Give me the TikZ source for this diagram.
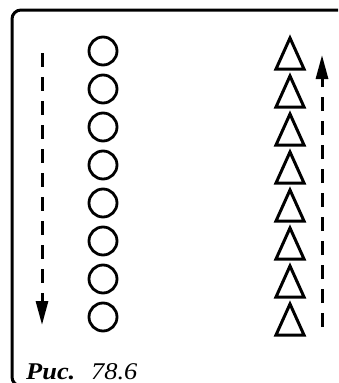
\documentclass[tikz,border=0pt]{standalone}
\usepackage{fontspec}
\setmainfont{Liberation Serif}
\usetikzlibrary{arrows.meta, calc, positioning}

\tikzset{
    circ/.style={circle, draw, line width=2.8pt, minimum size=28pt, inner sep=0pt},
    tri/.style={line width=3pt, line join=miter},
    flow/.style={line width=3pt, dash pattern=on 14pt off 10pt,
        -{Triangle[width=12pt, length=24pt]}},
    frame/.style={line width=3pt, rounded corners=9pt}
}

\begin{document}
\begin{tikzpicture}[x=1pt, y=-1pt]
    \useasboundingbox (0,0) rectangle (338,383);
    % 1. Rahmen
    \draw[frame] (338,10) -- (12,10) -- (12,386) -- (22,386);

    % 2. Kreise und Dreiecke
    \foreach \i in {1,...,8} {
        \node[circ] (c\i) at (103, {51+38*(\i-1)}) {};
        \coordinate (t\i) at (290, {38+38*(\i-1)});
        \draw[tri] ($(t\i)+(-14,31)$) -- (t\i) -- ($(t\i)+(14,31)$) -- cycle;
    }

    % 3. Pfeile
    \coordinate (ltop) at (42,53);
    \coordinate (lbot) at (42,325);
    \coordinate (rbot) at (322,327);
    \coordinate (rtop) at (322,55);
    \draw[flow] (ltop) -- (lbot);
    \draw[flow] (rbot) -- (rtop);

    % 4. Beschriftung
    \node[anchor=base west, inner sep=0pt] (fig) at (26,379)
        {\scalebox{1.1}[1]{\fontsize{24}{26}\selectfont\bfseries\itshape Рис.}};
    \node[anchor=base west, inner sep=0pt] (num) at (91,379)
        {\scalebox{1.1}[1]{\fontsize{24}{26}\selectfont\itshape 78.6}};
\end{tikzpicture}
\end{document}
